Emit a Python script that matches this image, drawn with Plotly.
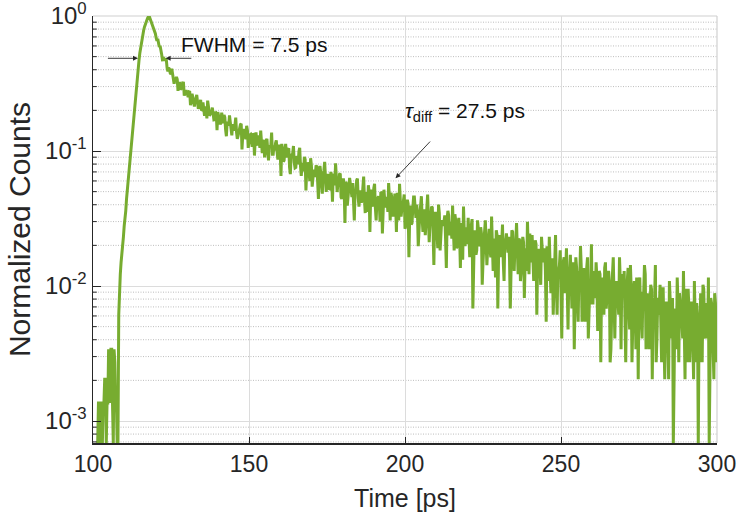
import numpy as np
import plotly.graph_objects as go

# ---- data: photon counts in 0.25 ps bins, 100 ps .. 300 ps ----
# counts_a: bins at 100.0, 100.5, ... 300.0 ; counts_b: bins at 100.25, 100.75, ... 299.75
t_start = 100.0
half_step = 0.25
counts_a = [
    0, 0, 0, 1, 2, 2, 1, 2, 3, 2,
    5, 2, 5, 1, 4, 2, 1, 14, 22, 27,
    41, 53, 76, 98, 140, 183, 258, 341, 470, 611,
    779, 946, 1104, 1219, 1331, 1418, 1470, 1362, 1258, 1168,
    1088, 962, 934, 884, 767, 696, 688, 698, 570, 594,
    545, 550, 463, 502, 500, 450, 420, 446, 468, 401,
    400, 368, 401, 357, 367, 314, 359, 338, 317, 351,
    296, 308, 314, 256, 314, 273, 287, 283, 251, 279,
    285, 251, 237, 248, 272, 212, 242, 227, 244, 192,
    224, 229, 203, 190, 214, 234, 193, 197, 180, 209,
    183, 195, 158, 193, 180, 166, 192, 155, 166, 173,
    132, 176, 150, 162, 161, 139, 162, 168, 145, 136,
    146, 166, 123, 147, 137, 150, 111, 136, 141, 121,
    111, 130, 146, 114, 117, 104, 127, 107, 116, 88,
    115, 105, 95, 115, 87, 95, 101, 71, 105, 84,
    94, 94, 77, 94, 100, 82, 76, 84, 99, 67,
    85, 77, 87, 58, 78, 82, 67, 60, 75, 89,
    66, 70, 61, 79, 65, 73, 52, 74, 68, 60,
    78, 56, 63, 68, 44, 72, 56, 64, 65, 52,
    67, 72, 57, 52, 59, 72, 45, 61, 55, 63,
    39, 56, 60, 47, 42, 55, 67, 47, 50, 43,
    58, 46, 53, 35, 54, 48, 42, 57, 38, 44,
    48, 28, 51, 37, 44, 44, 33, 46, 49, 38,
    33, 39, 50, 28, 41, 35, 43, 23, 37, 40,
    30, 26, 37, 46, 30, 33, 27, 39, 30, 36,
    22, 37, 32, 28, 39, 24, 30, 33, 17, 35,
    25, 31, 31, 22, 33, 36, 26, 23, 29, 37,
    19, 30, 26, 33, 16, 28, 31, 22, 19, 28,
    36, 22, 25, 20, 30, 22, 27, 15, 28, 24,
    19, 29, 16, 21, 23, 9, 25, 16, 20, 21,
    13, 21, 24, 17, 14, 17, 25, 10, 19, 16,
    20, 8, 17, 20, 13, 10, 17, 24, 13, 15,
    11, 19, 13, 17, 7, 18, 15, 12, 20, 10,
    14, 16, 5, 18, 11, 14, 15, 9, 16, 18,
    12, 10, 13, 20, 7, 14, 12, 16, 5, 13,
    14, 9, 6, 13, 18, 9, 10, 7, 14, 9,
    12, 4, 12, 10, 7, 14, 6, 9, 11, 3,
    12, 6, 1, 10, 5, 11, 13, 8, 6, 9,
    14, 4, 10, 8, 11, 3, 9, 11, 1, 4,
    10, 15, 7, 8, 6, 1, 12, 10, 3, 11,
    9,
]
counts_b = [
    0, 0, 0, 2, 1, 2, 2, 3, 1, 2,
    3, 5, 2, 5, 2, 1, 9, 18, 25, 34,
    46, 65, 85, 119, 158, 219, 295, 403, 533, 693,
    858, 1031, 1158, 1281, 1369, 1452, 1413, 1318, 1207, 1126,
    1011, 998, 866, 833, 695, 707, 711, 605, 607, 555,
    597, 478, 502, 518, 410, 477, 426, 469, 377, 413,
    391, 403, 321, 390, 338, 353, 383, 302, 339, 298,
    336, 268, 304, 347, 274, 280, 308, 250, 288, 210,
    271, 232, 283, 236, 261, 189, 236, 270, 201, 233,
    208, 260, 181, 208, 231, 151, 214, 182, 226, 155,
    193, 182, 199, 136, 202, 162, 178, 208, 142, 177,
    144, 181, 125, 159, 201, 139, 148, 176, 127, 164,
    96, 152, 125, 166, 132, 154, 99, 135, 160, 110,
    135, 117, 155, 96, 116, 133, 75, 121, 98, 130,
    80, 107, 98, 112, 65, 114, 87, 99, 122, 73,
    99, 76, 103, 62, 88, 119, 73, 80, 100, 65,
    92, 43, 84, 65, 93, 70, 85, 45, 74, 92,
    57, 75, 64, 95, 51, 67, 82, 37, 76, 57,
    84, 45, 67, 61, 73, 36, 76, 56, 67, 85,
    45, 67, 48, 71, 37, 58, 84, 48, 53, 70,
    41, 64, 24, 58, 43, 67, 48, 59, 29, 50,
    68, 37, 53, 42, 70, 31, 46, 56, 21, 52,
    38, 59, 27, 45, 41, 49, 20, 53, 35, 44,
    58, 27, 45, 29, 47, 20, 38, 57, 29, 34,
    47, 24, 42, 10, 38, 25, 45, 29, 40, 15,
    32, 45, 21, 36, 27, 48, 19, 30, 38, 10,
    35, 24, 42, 16, 31, 28, 34, 10, 38, 24,
    30, 43, 18, 32, 19, 34, 12, 28, 44, 18,
    23, 35, 16, 32, 9, 27, 18, 34, 22, 28,
    8, 22, 34, 13, 23, 17, 35, 9, 19, 27,
    6, 23, 13, 28, 7, 18, 17, 22, 5, 24,
    13, 19, 29, 8, 20, 8, 21, 6, 15, 30,
    11, 12, 22, 7, 19, 4, 17, 9, 22, 13,
    19, 4, 14, 24, 6, 16, 11, 24, 5, 13,
    19, 4, 18, 10, 21, 4, 14, 12, 17, 3,
    17, 8, 13, 21, 5, 13, 5, 15, 3, 10,
    21, 6, 9, 15, 4, 14, 3, 11, 4, 16,
    8, 12, 3, 9, 17, 4, 11, 8, 19, 3,
    9, 14, 4, 11, 6, 16, 4, 9, 8, 13,
    4, 14, 6, 11, 17, 4, 11, 5, 13, 4,
]

x_ticks = [100, 150, 200, 250, 300]
y_ticks = [1, 0.1, 0.01, 0.001]
y_tick_labels = ["10<sup>0</sup>", "10<sup>-1</sup>", "10<sup>-2</sup>", "10<sup>-3</sup>"]

fwhm_text = "FWHM = 7.5 ps"
tau_text = "<i>τ</i><sub>diff</sub> = 27.5 ps"

# ---- interleave the two bin sets into one time series ----
time, counts = [], []
for i, ca in enumerate(counts_a):
    time.append(t_start + 2 * half_step * i)
    counts.append(ca)
    if i < len(counts_b):
        time.append(t_start + half_step * (2 * i + 1))
        counts.append(counts_b[i])
peak = max(counts)
norm = [c / peak if c > 0 else None for c in counts]

GREEN = "#77AC30"
AX = "#262626"
FONT = "Liberation Sans, Arial, Helvetica, sans-serif"
Y_LOW = -3.163

fig = go.Figure()
fig.add_trace(go.Scatter(x=time, y=norm, mode="lines",
                         line=dict(color=GREEN, width=3.0), connectgaps=False,
                         showlegend=False, hoverinfo="skip"))

shapes = []
for k in range(-4, 0):
    for m in range(2, 10):
        v = m * 10.0 ** k
        if Y_LOW <= np.log10(v) <= 0:
            shapes.append(dict(type="line", xref="paper", yref="y", x0=0, x1=1, y0=v, y1=v,
                               line=dict(color="#BDBDBD", width=1, dash="1px,1.5px"), layer="below"))
            shapes.append(dict(type="line", xref="paper", yref="y", x0=0, x1=0.006, y0=v, y1=v,
                               line=dict(color=AX, width=1), layer="above"))
shapes.append(dict(type="line", xref="paper", yref="paper", x0=0, x1=1, y0=1, y1=1,
                   line=dict(color="#D0D0D0", width=1.2), layer="below"))
shapes.append(dict(type="line", xref="paper", yref="paper", x0=1, x1=1, y0=0, y1=1,
                   line=dict(color="#D0D0D0", width=1.2), layer="below"))

fig.update_layout(
    width=740, height=517,
    margin=dict(l=93, r=23, t=16, b=74),
    paper_bgcolor="white", plot_bgcolor="white",
    font=dict(family=FONT, color=AX, size=20),
    shapes=shapes,
    xaxis=dict(range=[100, 300], tickvals=x_ticks, ticks="inside", ticklen=6, tickwidth=1,
               tickcolor=AX, showline=True, linecolor=AX, linewidth=1.5, automargin=False,
               showgrid=True, gridcolor="#DCDCDC", gridwidth=1, zeroline=False,
               ticklabeloverflow="allow",
               tickfont=dict(size=23, color=AX),
               title=dict(text="Time [ps]", font=dict(size=25, color=AX), standoff=13)),
    yaxis=dict(type="log", range=[Y_LOW, 0], tickvals=y_ticks, ticktext=y_tick_labels,
               ticks="inside", ticklen=8, tickwidth=1, tickcolor=AX, automargin=False,
               showline=True, linecolor=AX, linewidth=1.5, ticklabeloverflow="allow",
               showgrid=True, gridcolor="#DCDCDC", gridwidth=1, zeroline=False,
               tickfont=dict(size=24, color=AX),
               title=dict(text="Normalized Counts", font=dict(size=30, color=AX), standoff=5)),
)

y_half = np.log10(0.486)
ann = [
    dict(x=114.4, y=y_half, ax=104.3, ay=y_half, xref="x", yref="y", axref="x", ayref="y",
         text="", showarrow=True, arrowhead=2, arrowsize=1.1, arrowwidth=0.9, arrowcolor=AX),
    dict(x=123.3, y=y_half, ax=132.0, ay=y_half, xref="x", yref="y", axref="x", ayref="y",
         text="", showarrow=True, arrowhead=2, arrowsize=1.1, arrowwidth=0.9, arrowcolor=AX),
    dict(x=127.6, y=-0.21, xref="x", yref="y", text=fwhm_text, showarrow=False,
         xanchor="left", yanchor="middle", font=dict(size=21, color="#111111")),
    dict(x=196.97, y=-1.202, ax=208.5, ay=-0.919, xref="x", yref="y", axref="x", ayref="y",
         text="", showarrow=True, arrowhead=2, arrowsize=1.1, arrowwidth=0.9, arrowcolor=AX),
    dict(x=199.4, y=-0.712, xref="x", yref="y", text=tau_text, showarrow=False,
         xanchor="left", yanchor="middle", font=dict(size=21, color="#111111")),
]
fig.update_layout(annotations=ann)

fig.write_html("out.html", config={"displayModeBar": False, "staticPlot": True},
               post_script="document.body.style.margin='0px';document.body.style.overflow='hidden';")
